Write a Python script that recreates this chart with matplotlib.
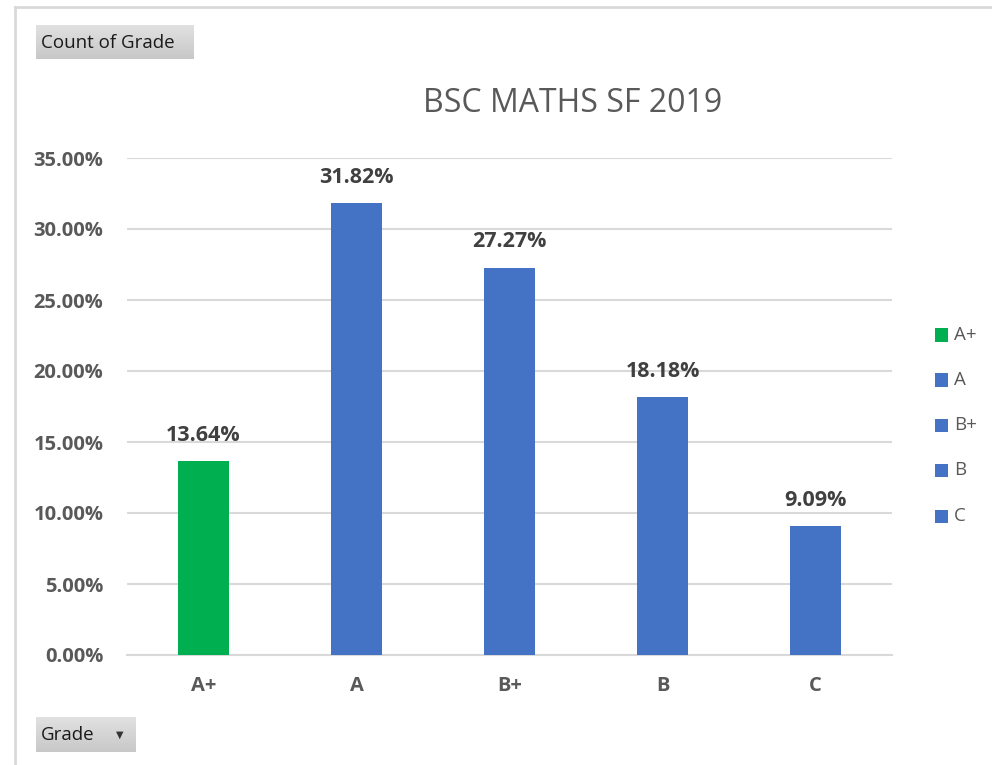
import matplotlib
matplotlib.use("Agg")
import matplotlib.pyplot as plt
from matplotlib.patches import Rectangle
from matplotlib.lines import Line2D
import numpy as np

plt.rcParams['font.family'] = ['Open Sans', 'DejaVu Sans']

categories = ["A+", "A", "B+", "B", "C"]
values = [13.64, 31.82, 27.27, 18.18, 9.09]
colors = ["#00B050", "#4472C4", "#4472C4", "#4472C4", "#4472C4"]
yticks = [0, 5, 10, 15, 20, 25, 30, 35]
title = "BSC MATHS SF 2019"

W, H = 992, 765
fig = plt.figure(figsize=(W/100, H/100), dpi=100)
ax = fig.add_axes([127/W, 1-655/H, (892-127)/W, (655-158)/H])

x = np.arange(len(categories))
ax.bar(x, values, width=0.33, color=colors, zorder=3)
ax.set_xlim(-0.5, len(categories)-0.5)
ax.set_ylim(0, 35)
ax.set_yticks(yticks)
ax.set_yticklabels([f"{v:.2f}%" for v in yticks], fontsize=14.5, fontweight='bold', color='#595959')
ax.set_xticks(x)
ax.set_xticklabels(categories, fontsize=14.5, fontweight='bold', color='#595959')
ax.tick_params(axis='y', length=0, pad=17)
ax.tick_params(axis='x', length=0, pad=15)
ax.grid(axis='y', color='#d9d9d9', linewidth=1.5, zorder=0)
for s in ['top', 'right', 'left']:
    ax.spines[s].set_visible(False)
ax.spines['bottom'].set_color('#d9d9d9')
ax.spines['bottom'].set_linewidth(1.5)

for xi, v in zip(x, values):
    ax.annotate(f"{v:.2f}%", (xi, v), xytext=(0, 11), textcoords='offset points',
                ha='center', va='bottom', fontsize=15.5, fontweight='bold', color='#404040')

fig.text(573/W, 1-104/H, title, ha='center', va='center', fontsize=23, color='#595959')

# legend
ys = [335, 380, 425, 470, 516]
for cat, col, yy in zip(categories, colors, ys):
    fig.patches.append(Rectangle((935/W, 1-(yy+6.5)/H), 13/W, 13/H, transform=fig.transFigure,
                                 color=col, figure=fig, linewidth=0))
    fig.text(954/W, 1-yy/H, cat, ha='left', va='center', fontsize=13.5, color='#595959')

# frame
fig.lines.append(Line2D([15/W, 15/W], [0, 1-7/H], transform=fig.transFigure, color='#d9d9d9', linewidth=2))
fig.lines.append(Line2D([15/W, 1], [1-7/H, 1-7/H], transform=fig.transFigure, color='#d9d9d9', linewidth=2))

# buttons
def button(x0, y0, x1, y1, label, arrow=False):
    n = 20
    for i in range(n):
        c = 0.88 - 0.1 * i / n
        fig.patches.append(Rectangle((x0/W, 1-(y0 + (y1-y0)*(i+1)/n)/H), (x1-x0)/W, (y1-y0)/n/H + 0.0005,
                                     transform=fig.transFigure, color=(c, c, c), figure=fig, linewidth=0))
    fig.text((x0+5)/W, 1-((y0+y1)/2 + 1)/H, label, ha='left', va='center', fontsize=13.5, color='#1a1a1a')
    if arrow:
        fig.text((x1-16)/W, 1-((y0+y1)/2)/H, "▼", ha='center', va='center', fontsize=7, color='#333333',
                 family='DejaVu Sans')

button(36, 25, 194, 59, "Count of Grade")
button(36, 717, 136, 752, "Grade", arrow=True)

fig.savefig("out.png", dpi=100)
